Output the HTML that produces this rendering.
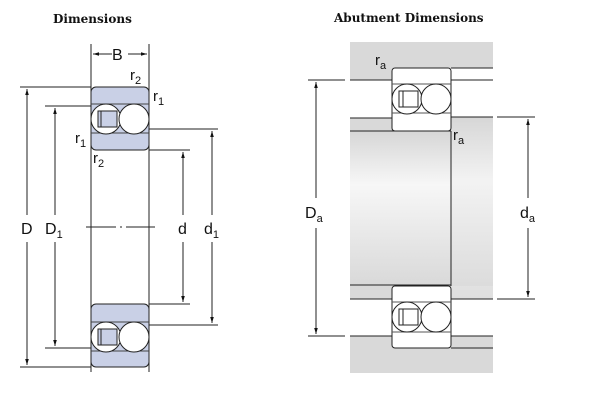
<!DOCTYPE html>
<html><head><meta charset="utf-8"><style>
html,body{margin:0;padding:0;background:#fff;width:600px;height:400px;overflow:hidden}
text{font-family:"Liberation Sans",sans-serif;fill:#111}
.t{font-family:"DejaVu Serif","Liberation Serif",serif;font-size:12px;font-weight:bold}
</style></head><body>
<svg width="600" height="400" viewBox="0 0 600 400" xmlns="http://www.w3.org/2000/svg">
<defs>
<linearGradient id="sh" x1="0" y1="0" x2="0" y2="1">
<stop offset="0" stop-color="#d6d6d6"/><stop offset="0.35" stop-color="#f7f7f7"/><stop offset="1" stop-color="#d9d9d9"/>
</linearGradient>
<marker id="a" viewBox="0 0 10 10" refX="10" refY="5" markerWidth="6" markerHeight="8" orient="auto-start-reverse" markerUnits="userSpaceOnUse"><path d="M0,2 L10,5 L0,8 z" fill="#111"/></marker>
<g id="balls">
<circle cx="15" cy="0" r="15" fill="#fff" stroke="#222" stroke-width="1"/>
<rect x="7" y="-8" width="19" height="16" fill="#c9d0e6" stroke="#222" stroke-width="1"/>
<line x1="10" y1="-8" x2="10" y2="8" stroke="#222"/>
<circle cx="43" cy="0" r="15" fill="#fff" stroke="#222" stroke-width="1"/>
</g>
<g id="ballsR">
<circle cx="15" cy="0" r="15" fill="#fff" stroke="#222" stroke-width="1"/>
<rect x="7" y="-8" width="19" height="16" fill="#fff" stroke="#222" stroke-width="1"/>
<line x1="11" y1="-8" x2="11" y2="8" stroke="#222"/>
<circle cx="44" cy="0" r="15" fill="#fff" stroke="#222" stroke-width="1"/>
</g>
</defs>
<text class="t" x="53" y="23">Dimensions</text>
<text class="t" x="334" y="22">Abutment Dimensions</text>

<!-- LEFT -->
<g stroke="#222" fill="none" stroke-width="1">
<line x1="91" y1="44" x2="91" y2="372"/><line x1="149" y1="44" x2="149" y2="372"/>
<line x1="93" y1="54" x2="112" y2="54" marker-start="url(#a)"/>
<line x1="128" y1="54" x2="147" y2="54" marker-end="url(#a)"/>
<line x1="20" y1="87" x2="91" y2="87"/><line x1="20" y1="367" x2="91" y2="367"/>
<line x1="45" y1="106" x2="91" y2="106"/><line x1="45" y1="348" x2="91" y2="348"/>
<line x1="149" y1="129" x2="218" y2="129"/><line x1="149" y1="325" x2="218" y2="325"/>
<line x1="149" y1="150" x2="190" y2="150"/><line x1="149" y1="304" x2="190" y2="304"/>
<line x1="27" y1="89" x2="27" y2="215" marker-start="url(#a)"/><line x1="27" y1="242" x2="27" y2="365" marker-end="url(#a)"/>
<line x1="55" y1="108" x2="55" y2="215" marker-start="url(#a)"/><line x1="55" y1="242" x2="55" y2="346" marker-end="url(#a)"/>
<line x1="183" y1="152" x2="183" y2="215" marker-start="url(#a)"/><line x1="183" y1="242" x2="183" y2="302" marker-end="url(#a)"/>
<line x1="212" y1="131" x2="212" y2="215" marker-start="url(#a)"/><line x1="212" y1="242" x2="212" y2="323" marker-end="url(#a)"/>
<line x1="86" y1="227" x2="155" y2="227" stroke-dasharray="30,4,2,4"/>
</g>
<rect x="91" y="87" width="58" height="63" rx="5" fill="#c9d0e6" stroke="#222"/>
<rect x="91" y="304" width="58" height="63" rx="5" fill="#c9d0e6" stroke="#222"/>
<line x1="91" y1="104" x2="149" y2="104" stroke="#444"/><line x1="91" y1="133" x2="149" y2="133" stroke="#444"/>
<line x1="91" y1="322" x2="149" y2="322" stroke="#444"/><line x1="91" y1="351" x2="149" y2="351" stroke="#444"/>
<use href="#balls" x="91" y="119"/>
<use href="#balls" x="91" y="337"/>
<text x="112" y="60" font-size="16">B</text>
<text x="130" y="80" font-size="15">r<tspan font-size="11" dy="4">2</tspan></text>
<text x="153" y="101" font-size="15">r<tspan font-size="11" dy="4">1</tspan></text>
<text x="75" y="143" font-size="15">r<tspan font-size="11" dy="4">1</tspan></text>
<text x="93" y="163" font-size="15">r<tspan font-size="11" dy="4">2</tspan></text>
<text x="21" y="234" font-size="16">D</text>
<text x="45" y="234" font-size="16">D<tspan font-size="11" dy="4">1</tspan></text>
<text x="178" y="234" font-size="16">d</text>
<text x="204" y="234" font-size="16">d<tspan font-size="11" dy="4">1</tspan></text>

<!-- RIGHT -->
<rect x="350" y="42" width="143" height="331" fill="#d9d9d9"/>
<rect x="350" y="80" width="42" height="38" fill="#fff"/>
<rect x="451" y="68" width="42" height="49" fill="#fff"/>
<rect x="350" y="299" width="42" height="37" fill="#fff"/>
<rect x="451" y="286" width="42" height="50" fill="#fff"/>
<rect x="350" y="131" width="101" height="154" fill="url(#sh)"/>
<rect x="451" y="117" width="42" height="182" fill="url(#sh)" opacity="0.85"/>
<g stroke="#222" fill="none">
<line x1="350" y1="80" x2="392" y2="80"/><line x1="350" y1="118" x2="392" y2="118"/><line x1="350" y1="131" x2="451" y2="131"/>
<line x1="451" y1="68" x2="493" y2="68"/><line x1="451" y1="80" x2="493" y2="80"/><line x1="451" y1="117" x2="493" y2="117"/>
<line x1="350" y1="285" x2="451" y2="285"/><line x1="350" y1="299" x2="392" y2="299"/><line x1="350" y1="336" x2="392" y2="336"/>
<line x1="451" y1="299" x2="493" y2="299"/><line x1="451" y1="336" x2="493" y2="336"/><line x1="451" y1="348" x2="493" y2="348"/>
<line x1="451" y1="131" x2="451" y2="286"/>
<line x1="308" y1="80" x2="345" y2="80"/><line x1="308" y1="336" x2="345" y2="336"/>
<line x1="497" y1="117" x2="535" y2="117"/><line x1="497" y1="299" x2="535" y2="299"/>
<line x1="316" y1="82" x2="316" y2="198" marker-start="url(#a)"/><line x1="316" y1="228" x2="316" y2="334" marker-end="url(#a)"/>
<line x1="528" y1="119" x2="528" y2="198" marker-start="url(#a)"/><line x1="528" y1="228" x2="528" y2="297" marker-end="url(#a)"/>
</g>
<rect x="392" y="68" width="59" height="63" rx="3" fill="#fff" stroke="#222"/>
<rect x="392" y="286" width="59" height="62" rx="3" fill="#fff" stroke="#222"/>
<line x1="392" y1="84" x2="451" y2="84" stroke="#555"/><line x1="392" y1="113" x2="451" y2="113" stroke="#555"/>
<line x1="392" y1="302" x2="451" y2="302" stroke="#555"/><line x1="392" y1="332" x2="451" y2="332" stroke="#555"/>
<use href="#ballsR" x="392" y="99"/>
<use href="#ballsR" x="392" y="317"/>
<text x="375" y="65" font-size="15">r<tspan font-size="11" dy="4">a</tspan></text>
<text x="453" y="140" font-size="15">r<tspan font-size="11" dy="4">a</tspan></text>
<text x="305" y="218" font-size="16">D<tspan font-size="11" dy="4">a</tspan></text>
<text x="520" y="218" font-size="16">d<tspan font-size="11" dy="4">a</tspan></text>
</svg>
</body></html>
